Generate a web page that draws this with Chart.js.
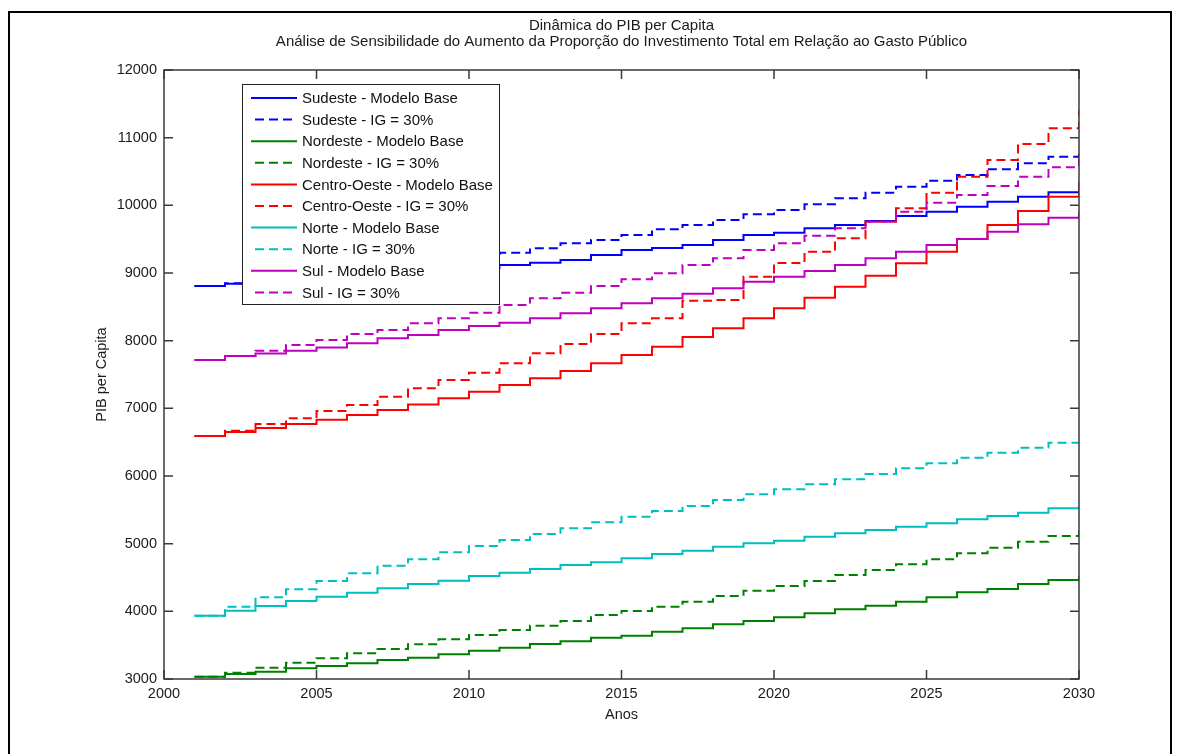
<!DOCTYPE html>
<html>
<head>
<meta charset="utf-8">
<script src="https://cdn.jsdelivr.net/npm/chart.js@4.4.1/dist/chart.umd.min.js"></script>
<style>
html,body{margin:0;padding:0;background:#fff;overflow:hidden;}
#frame{position:absolute;left:8px;top:11px;width:1160px;height:760px;border:2px solid #000;border-bottom:none;}
#wrap{position:absolute;left:0;top:0;width:1180px;height:754px;}
</style>
</head>
<body>
<div id="frame"></div>
<div id="wrap"><canvas id="c"></canvas></div>
<script>
const titleLines = ["Dinâmica do PIB per Capita",
  "Análise de Sensibilidade do Aumento da Proporção do Investimento Total em Relação ao Gasto Público"];
const xLabel = "Anos";
const yLabel = "PIB per Capita";

const years = [2001,2002,2003,2004,2005,2006,2007,2008,2009,2010,
               2011,2012,2013,2014,2015,2016,2017,2018,2019,2020,
               2021,2022,2023,2024,2025,2026,2027,2028,2029,2030];

const sudesteBase = [8808,8840,8868,8895,8920,8945,8975,9005,9040,9075,
                     9118,9150,9192,9266,9340,9370,9414,9488,9562,9596,
                     9660,9709,9768,9842,9906,9980,10054,10128,10192,10251];
const sudesteIG   = [8808,8850,8920,8980,9030,9080,9130,9180,9220,9260,
                     9300,9365,9438,9488,9562,9645,9709,9783,9867,9931,
                     10015,10103,10187,10275,10364,10448,10532,10621,10719,10808];
const nordesteBase = [3034,3074,3108,3158,3192,3232,3281,3315,3365,3418,
                      3463,3517,3557,3611,3640,3700,3749,3808,3857,3912,
                      3971,4030,4084,4143,4208,4281,4330,4404,4463,4520];
const nordesteIG   = [3034,3093,3167,3241,3305,3379,3443,3512,3586,3650,
                      3724,3788,3857,3946,4005,4069,4143,4227,4306,4375,
                      4448,4537,4611,4695,4768,4857,4941,5029,5113,5202];
const coBase = [6590,6650,6710,6770,6830,6900,6975,7055,7148,7245,
                7345,7443,7550,7665,7788,7910,8055,8182,8330,8478,
                8635,8798,8960,9143,9315,9502,9709,9916,10128,10349];
const coIG   = [6590,6670,6768,6852,6960,7050,7172,7295,7418,7526,
                7665,7813,7950,8098,8256,8330,8590,8600,8945,9148,
                9315,9512,9758,9956,10187,10423,10670,10906,11138,11409];
const norteBase = [3936,4010,4079,4153,4217,4276,4340,4404,4453,4522,
                   4571,4625,4685,4724,4783,4847,4897,4956,5005,5044,
                   5103,5153,5202,5251,5300,5360,5409,5458,5522,5556];
const norteIG   = [3936,4069,4207,4325,4448,4561,4675,4768,4872,4965,
                   5054,5143,5226,5315,5399,5483,5557,5645,5729,5803,
                   5877,5951,6029,6113,6187,6270,6345,6419,6493,6572];
const sulBase = [7715,7773,7812,7850,7900,7961,8035,8084,8158,8217,
                 8266,8330,8404,8478,8552,8626,8695,8773,8872,8945,
                 9030,9118,9217,9315,9414,9502,9611,9719,9817,9906];
const sulIG   = [7715,7773,7852,7936,8010,8098,8158,8256,8330,8413,
                 8527,8626,8709,8808,8907,8995,9118,9217,9340,9438,
                 9552,9660,9758,9906,10039,10152,10285,10423,10561,10680];

const seriesLabels = ["Sudeste - Modelo Base","Sudeste - IG = 30%",
  "Nordeste - Modelo Base","Nordeste - IG = 30%",
  "Centro-Oeste - Modelo Base","Centro-Oeste - IG = 30%",
  "Norte - Modelo Base","Norte - IG = 30%",
  "Sul - Modelo Base","Sul - IG = 30%"];
const seriesValues = [sudesteBase,sudesteIG,nordesteBase,nordesteIG,coBase,coIG,norteBase,norteIG,sulBase,sulIG];
const seriesColors = ["#0000ff","#0000ff","#008000","#008000","#ff0000","#ff0000","#00bfbf","#00bfbf","#bf00bf","#bf00bf"];
const dashed = [false,true,false,true,false,true,false,true,false,true];

const xTicks = [2000,2005,2010,2015,2020,2025,2030];
const yTicks = [3000,4000,5000,6000,7000,8000,9000,10000,11000,12000];

const FONT = "'Liberation Sans', Arial, Helvetica, sans-serif";
const DASH = [9,5];

const datasets = seriesValues.map((vals,i)=>({
  label: seriesLabels[i],
  data: vals.map((v,j)=>({x: years[j], y: v})),
  borderColor: seriesColors[i],
  backgroundColor: seriesColors[i],
  borderWidth: 2,
  borderDash: dashed[i] ? DASH : [],
  pointRadius: 0,
  stepped: 'before',
  fill: false,
  order: seriesValues.length - i
}));

const boxPlugin = {
  id: 'matlabBox',
  afterDraw(chart){
    const {ctx, chartArea: a, scales} = chart;
    ctx.save();
    ctx.strokeStyle = '#3a3a3a';
    ctx.lineWidth = 1.5;
    ctx.setLineDash([]);
    ctx.strokeRect(a.left, a.top, a.right - a.left, a.bottom - a.top);
    const tl = 9;
    ctx.beginPath();
    xTicks.forEach(v=>{
      const px = scales.x.getPixelForValue(v);
      ctx.moveTo(px, a.bottom); ctx.lineTo(px, a.bottom - tl);
      ctx.moveTo(px, a.top); ctx.lineTo(px, a.top + tl);
    });
    yTicks.forEach(v=>{
      const py = scales.y.getPixelForValue(v);
      ctx.moveTo(a.left, py); ctx.lineTo(a.left + tl, py);
      ctx.moveTo(a.right, py); ctx.lineTo(a.right - tl, py);
    });
    ctx.stroke();

    // legend
    const lx = a.left + 78, ly = a.top + 14, lw = 257, lh = 220;
    ctx.fillStyle = '#fff';
    ctx.fillRect(lx, ly, lw, lh);
    ctx.strokeStyle = '#222';
    ctx.lineWidth = 1;
    ctx.strokeRect(lx + 0.5, ly + 0.5, lw, lh);
    ctx.font = '15px ' + FONT;
    ctx.textBaseline = 'middle';
    ctx.textAlign = 'left';
    chart.data.datasets.forEach((ds,i)=>{
      const cy = ly + 14 + i * 21.6;
      ctx.strokeStyle = ds.borderColor;
      ctx.lineWidth = 2;
      ctx.setLineDash(ds.borderDash.length ? DASH : []);
      ctx.beginPath();
      ctx.moveTo(lx + (ds.borderDash.length ? 13 : 9), cy);
      ctx.lineTo(lx + 55, cy);
      ctx.stroke();
      ctx.setLineDash([]);
      ctx.fillStyle = '#111';
      ctx.fillText(ds.label, lx + 60, cy + 1);
    });
    ctx.restore();
  }
};

new Chart(document.getElementById('c'), {
  type: 'line',
  data: { datasets },
  options: {
    responsive: true,
    maintainAspectRatio: false,
    devicePixelRatio: 1,
    animation: false,
    events: [],
    layout: { padding: { left: 0, right: 101, top: 0, bottom: 0 } },
    plugins: {
      legend: { display: false },
      tooltip: { enabled: false },
      title: {
        display: true,
        fullSize: false,
        text: titleLines,
        color: '#1a1a1a',
        font: { family: FONT, size: 15, weight: 'normal', lineHeight: 16/15 },
        padding: { top: 18, bottom: 20 }
      }
    },
    scales: {
      x: {
        type: 'linear',
        min: 2000, max: 2030,
        afterFit(s){ s.height = 75; },
        afterBuildTicks(s){ s.ticks = xTicks.map(v=>({value:v})); },
        ticks: { callback: v => String(v), color: '#1a1a1a', padding: 6,
                 font: { family: FONT, size: 14.5 }, maxRotation: 0 },
        grid: { display: false, drawTicks: false },
        border: { display: false },
        title: { display: true, text: xLabel, color: '#1a1a1a',
                 font: { family: FONT, size: 14.5, lineHeight: 16/14.5 },
                 padding: { top: 0, bottom: 31 } }
      },
      y: {
        type: 'linear',
        min: 3000, max: 12000,
        afterFit(s){ s.width = 164; },
        afterBuildTicks(s){ s.ticks = yTicks.map(v=>({value:v})); },
        ticks: { callback: v => String(v), color: '#1a1a1a', padding: 7,
                 font: { family: FONT, size: 14.5 } },
        grid: { display: false, drawTicks: false },
        border: { display: false },
        title: { display: true, text: yLabel, color: '#1a1a1a',
                 font: { family: FONT, size: 14.5, lineHeight: 16/14.5 },
                 padding: { top: 94, bottom: 0 } }
      }
    }
  },
  plugins: [boxPlugin]
});
</script>
</body>
</html>
